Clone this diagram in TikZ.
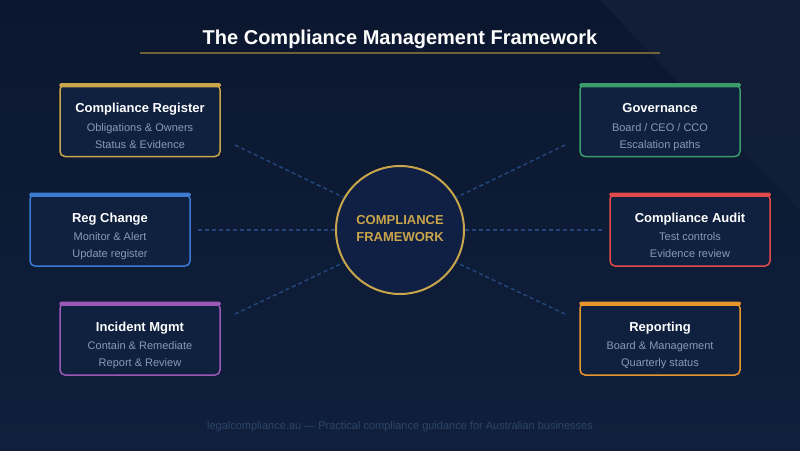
\documentclass[tikz,border=0pt]{standalone}
\usepackage{fontspec}
\setmainfont{Liberation Sans}
\definecolor{bgtop}{HTML}{0B172E}
\definecolor{bgbot}{HTML}{0F1F3D}
\definecolor{bgtri}{HTML}{132038}
\definecolor{boxfill}{HTML}{10203F}
\definecolor{circfill}{HTML}{0F2044}
\definecolor{gold}{HTML}{C9A54B}
\definecolor{rulegold}{HTML}{6F6236}
\definecolor{cgreen}{HTML}{3A9B6B}
\definecolor{cblue}{HTML}{3B7BD4}
\definecolor{cred}{HTML}{E04A4A}
\definecolor{cpurple}{HTML}{9B59B6}
\definecolor{corange}{HTML}{E8962C}
\definecolor{subc}{HTML}{859BBB}
\definecolor{dashc}{HTML}{24467A}
\definecolor{footc}{HTML}{2C4569}
\tikzset{
  cbox/.style={line width=1.5pt, rounded corners=5pt, fill=boxfill,
    minimum width=160pt, minimum height=72pt, inner sep=0pt},
  ttl/.style={font=\bfseries\fontsize{13}{15}\selectfont, text=white, anchor=base, inner sep=0pt},
  sub/.style={font=\fontsize{11}{13}\selectfont, text=subc, anchor=base, inner sep=0pt},
  link/.style={draw=dashc, line width=1.5pt, dash pattern=on 4pt off 3pt},
}
\newcommand\compbox[6]{%
  \node[cbox, draw=#3] (#1) at (#2) {};
  \fill[#3, rounded corners=1.5pt] ([yshift=0.75pt]#1.north west) rectangle ([yshift=-3.5pt]#1.north east);
  \node[ttl] (#1t) at ([yshift=7.8pt]#1.center) {#4};
  \node[sub] (#1a) at ([yshift=-10.5pt]#1.center) {#5};
  \node[sub] (#1b) at ([yshift=-27.8pt]#1.center) {#6};
}
\begin{document}
\begin{tikzpicture}[x=1pt,y=-1pt]
\useasboundingbox (0,0) rectangle (800,450);
\shade[top color=bgtop, bottom color=bgbot] (0,0) rectangle (800,450);
\fill[bgtri, opacity=0.8] (600,0) -- (800,0) -- (800,210) -- cycle;

% title
\node[font=\bfseries\fontsize{20}{24}\selectfont, text=white, anchor=base, inner sep=0pt] (title) at (400,44) {The Compliance Management Framework};
\coordinate (rl) at (140,52.5);
\coordinate (rr) at (660,52.5);
\draw[rulegold, line width=2pt] (rl) -- (rr);

% centre
\node[circle, draw=gold, line width=2pt, fill=circfill, minimum size=128pt, inner sep=0pt] (c) at (400,230) {};
\node[font=\bfseries\fontsize{13}{15}\selectfont, text=gold, anchor=base, inner sep=0pt] (ct1) at (400,224) {COMPLIANCE};
\node[font=\bfseries\fontsize{13}{15}\selectfont, text=gold, anchor=base, inner sep=0pt] (ct2) at (400,241.7) {FRAMEWORK};

% connectors
\coordinate (s1) at (235,145);
\coordinate (s2) at (198,230);
\coordinate (s3) at (235,314);
\coordinate (s4) at (565,145);
\coordinate (s5) at (602,230);
\coordinate (s6) at (565,314);
\draw[link] (s1) -- (c.150);
\draw[link] (s2) -- (c.180);
\draw[link] (s3) -- (c.210);
\draw[link] (s4) -- (c.30);
\draw[link] (s5) -- (c.0);
\draw[link] (s6) -- (c.330);

% boxes
\compbox{reg}{140,120.5}{gold}{Compliance Register}{Obligations \& Owners}{Status \& Evidence}
\compbox{gov}{660,120.5}{cgreen}{Governance}{Board / CEO / CCO}{Escalation paths}
\compbox{chg}{110,230}{cblue}{Reg Change}{Monitor \& Alert}{Update register}
\compbox{aud}{690,230}{cred}{Compliance Audit}{Test controls}{Evidence review}
\compbox{inc}{140,339}{cpurple}{Incident Mgmt}{Contain \& Remediate}{Report \& Review}
\compbox{rep}{660,339}{corange}{Reporting}{Board \& Management}{Quarterly status}

% footer
\node[font=\fontsize{11}{13}\selectfont, text=footc, anchor=base, inner sep=0pt] (foot) at (400,429) {legalcompliance.au — Practical compliance guidance for Australian businesses};
\end{tikzpicture}
\end{document}
